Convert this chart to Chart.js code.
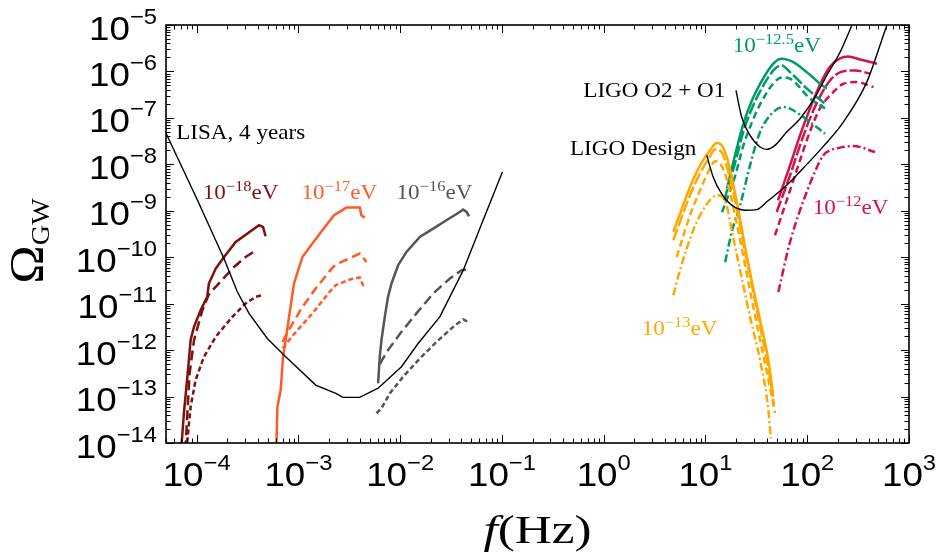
<!DOCTYPE html>
<html>
<head>
<meta charset="utf-8">
<script src="https://cdn.jsdelivr.net/npm/chart.js@4.4.1/dist/chart.umd.min.js"></script>
<style>
  html, body { margin: 0; padding: 0; background: #fff; }
  #wrap { width: 940px; height: 556px; }
</style>
</head>
<body>
<div id="wrap"><canvas id="chart" width="940" height="556"></canvas></div>
<script>
// Tick labels (powers of ten)
const xTickExps = [-4, -3, -2, -1, 0, 1, 2, 3];
const yTickExps = [-5, -6, -7, -8, -9, -10, -11, -12, -13, -14];

// Detector sensitivity curves [f (Hz), Omega_GW]
const lisa = [[4.95e-5, 4.9e-8], [1.02e-4, 1.68e-9], [1.86e-4, 9.3e-11], [2.51e-4, 1.8e-11], [3.27e-4, 6.2e-12],
    [4.95e-4, 1.78e-12], [7.5e-4, 7.2e-13], [1.48e-3, 1.77e-13], [2.33e-3, 1.17e-13], [2.75e-3, 9.6e-14],
    [4.0e-3, 9.6e-14], [6.07e-3, 1.51e-13], [1.03e-2, 4.4e-13], [1.5e-2, 1.39e-12], [2.45e-2, 5.2e-12],
    [4.16e-2, 5.2e-11], [6.53e-2, 6.25e-10], [1.01e-1, 6.8e-9]];
const ligoDesign = [[10.3, 1.56e-8], [11.9, 5.33e-9], [14.4, 2.34e-9], [18.1, 1.32e-9], [24.4, 1.03e-9],
    [31.8, 1.06e-9], [40.6, 1.6e-9], [62.8, 3.53e-9], [95.1, 9.06e-9], [143.9, 2.44e-8], [226.5, 8.13e-8],
    [384.6, 5.89e-7], [605, 9.8e-6], [708, 2.5e-5]];
const ligoO2 = [[19.95, 3.9e-7], [22.7, 1.04e-7], [27.4, 4.21e-8], [34.4, 2.36e-8], [39.9, 2.1e-8],
    [48.2, 2.56e-8], [62.8, 4.95e-8], [84.9, 9.61e-8], [119.4, 2.8e-7], [155.6, 8.2e-7], [210.4, 2.6e-6],
    [274.2, 9.75e-6], [316, 2.0e-5]];

// m = 1e-18 eV
const m18Solid = [[7.0e-5, 6e-15], [7.13e-5, 1e-14], [7.5e-5, 4.4e-14], [7.93e-5, 1.62e-13], [8.28e-5, 4.37e-13],
    [8.73e-5, 1.66e-12], [9.42e-5, 3.16e-12], [1.094e-4, 7.24e-12], [1.27e-4, 1.4e-11], [1.32e-4, 2.72e-11],
    [1.54e-4, 5.71e-11], [1.86e-4, 1.01e-10], [2.42e-4, 2.13e-10], [3.16e-4, 3.24e-10], [4.1e-4, 4.88e-10],
    [4.49e-4, 4.49e-10], [4.76e-4, 2.83e-10]];
const m18Dashed = [[7.76e-5, 7e-15], [8.11e-5, 4.42e-14], [8.53e-5, 3.16e-13], [9.42e-5, 1.64e-12],
    [1.138e-4, 7.24e-12], [1.32e-4, 1.6e-11], [1.72e-4, 3.0e-11], [2.33e-4, 6.18e-11], [3.03e-4, 1.01e-10],
    [3.95e-4, 1.46e-10]];
const m18Dotted = [[7.94e-5, 7e-15], [8.11e-5, 1.15e-14], [8.73e-5, 6.03e-14], [9.77e-5, 2.26e-13],
    [1.18e-4, 7.18e-13], [1.54e-4, 1.93e-12], [2.24e-4, 5.2e-12], [3.03e-4, 1.01e-11], [3.8e-4, 1.4e-11],
    [4.43e-4, 1.52e-11]];

// m = 1e-17 eV
const m17Solid = [[6.05e-4, 6e-15], [6.22e-4, 6.03e-14], [6.7e-4, 1.38e-13], [7.06e-4, 7.18e-13], [7.5e-4, 1.64e-12],
    [8.09e-4, 5.2e-12], [9.06e-4, 2.72e-11], [1.094e-3, 1.01e-10], [1.374e-3, 1.97e-10], [1.72e-3, 3.81e-10],
    [2.24e-3, 8.0e-10], [2.96e-3, 1.17e-9], [4.01e-3, 1.17e-9], [4.16e-3, 8.0e-10], [4.49e-3, 7.1e-10]];
const m17Dashed = [[6.97e-4, 1.51e-12], [8.39e-4, 3.16e-12], [1.094e-3, 8.51e-12], [1.48e-3, 2.12e-11],
    [2.0e-3, 4.83e-11], [2.19e-3, 6.18e-11], [2.65e-3, 7.94e-11], [3.32e-3, 9.84e-11], [4.01e-3, 1.2e-10],
    [4.67e-3, 7.94e-11]];
const m17Dotted = [[7.02e-4, 1.1e-12], [8.09e-4, 1.64e-12], [1.014e-3, 2.93e-12], [1.374e-3, 6.17e-12],
    [1.85e-3, 1.4e-11], [2.03e-3, 1.8e-11], [2.33e-3, 2.51e-11], [2.56e-3, 2.72e-11], [3.19e-3, 3.31e-11],
    [4.01e-3, 3.66e-11], [4.31e-3, 2.51e-11], [4.67e-3, 2.29e-11]];

// m = 1e-16 eV
const m16Solid = [[6.07e-3, 1.92e-13], [6.3e-3, 7.18e-13], [6.55e-3, 1.64e-12], [7.06e-3, 5.2e-12], [7.6e-3, 1.4e-11],
    [8.22e-3, 2.72e-11], [9.55e-3, 6.73e-11], [1.153e-2, 1.3e-10], [1.56e-2, 2.74e-10], [2.11e-2, 4.14e-10],
    [2.85e-2, 6.25e-10], [3.85e-2, 9.42e-10], [4.16e-2, 1.06e-9], [4.49e-2, 9.42e-10], [4.76e-2, 7.62e-10]];
const m16Dashed = [[6.3e-3, 5.01e-13], [7.6e-3, 1.0e-12], [1.03e-2, 2.48e-12], [1.445e-2, 6.17e-12],
    [2.11e-2, 1.66e-11], [3.08e-2, 3.48e-11], [4.01e-2, 5.25e-11], [4.66e-2, 5.43e-11]];
const m16Dotted = [[5.85e-3, 4.37e-14], [6.55e-3, 5.57e-14], [7.91e-3, 1.17e-13], [1.07e-2, 2.67e-13],
    [1.56e-2, 6.61e-13], [2.28e-2, 1.51e-12], [3.32e-2, 3.16e-12], [4.16e-2, 4.57e-12], [4.66e-2, 4.07e-12]];

// m = 1e-13 eV
const m13Solid = [[4.83, 3.5e-10], [5.62, 8.71e-10], [7.05, 3.25e-9], [8.85, 9.51e-9], [11.09, 2.0e-8],
    [12.88, 2.87e-8], [14.42, 2.56e-8], [16.18, 1.44e-8], [18.11, 5.33e-9], [21.04, 1.03e-9], [24.5, 1.67e-10],
    [28.4, 3.2e-11], [34.4, 4.42e-12], [41.5, 6.1e-13], [46.5, 9.9e-14]];
const m13LongDash = [[4.83, 2.32e-10], [7.05, 2.15e-9], [8.85, 6.4e-9], [11.09, 1.49e-8], [12.42, 2.1e-8],
    [14.42, 1.81e-8], [16.63, 7.43e-9], [19.5, 1.68e-9], [24.5, 1.28e-10], [28.6, 2.5e-11], [34.4, 3.28e-12],
    [41.2, 4.53e-13], [47.2, 6.56e-14]];
const m13Dashed = [[5.21, 1.01e-10], [7.05, 8.0e-10], [8.85, 2.76e-9], [11.09, 8.2e-9], [12.42, 1.16e-8],
    [13.9, 1.05e-8], [16.3, 4.53e-9], [19.5, 8.0e-10], [24.5, 6.73e-11], [28.6, 1.19e-11], [34.4, 1.64e-12],
    [41.2, 2.5e-13], [48.3, 4.42e-14]];
const m13DashDot = [[4.83, 1.52e-11], [5.62, 5.25e-11], [7.59, 3.81e-10], [9.89, 1.21e-9], [12.88, 2.15e-9],
    [14.96, 1.95e-9], [16.3, 1.19e-9], [18.11, 3.81e-10], [21.9, 5.25e-11], [27.4, 5.2e-12], [34.4, 6.1e-13],
    [41.5, 5.13e-14], [43.8, 1.26e-14]];

// m = 10^-12.5 eV
const m125Solid = [[16.3, 3.05e-9], [19.5, 1.56e-8], [23.6, 7.5e-8], [28.6, 2.38e-7], [34.4, 5.43e-7],
    [46.5, 1.47e-6], [56.1, 1.87e-6], [72.9, 1.58e-6], [98.8, 9.66e-7], [133.7, 5.43e-7], [155.6, 4.25e-7]];
const m125LongDash = [[15.24, 1.68e-9], [19.5, 1.05e-8], [23.6, 5.13e-8], [28.6, 1.6e-7], [34.4, 3.72e-7],
    [46.5, 1.05e-6], [56.1, 1.35e-6], [67.8, 9.66e-7], [98.8, 4.31e-7], [149.6, 2.02e-7]];
const m125Dashed = [[14.55, 9.29e-10], [19.5, 5.52e-9], [23.6, 2.56e-8], [28.6, 8.0e-8], [34.4, 1.95e-7],
    [46.5, 5.52e-7], [56.1, 7.43e-7], [67.8, 6.97e-7], [106.7, 2.59e-7], [149.6, 1.6e-7]];
const m125DashDot = [[15.6, 7.8e-11], [18.3, 3.81e-10], [21.9, 1.31e-9], [27.4, 9.5e-9], [34.4, 4.95e-8],
    [43.2, 1.13e-7], [58.3, 1.71e-7], [67.8, 1.58e-7], [106.7, 8.13e-8], [149.6, 4.57e-8]];

// m = 1e-12 eV
const m12Solid = [[51.6, 1.68e-9], [67.8, 9.51e-9], [84.9, 4.21e-8], [106.5, 1.6e-7], [133.6, 5.25e-7],
    [167.5, 1.28e-6], [210.1, 1.91e-6], [251.8, 2.1e-6], [330.4, 1.81e-6], [485.6, 1.47e-6]];
const m12LongDash = [[50.1, 9.42e-10], [67.8, 5.79e-9], [84.9, 2.56e-8], [106.5, 9.77e-8], [133.6, 2.9e-7],
    [167.5, 6.4e-7], [210.1, 9.51e-7], [295.1, 1.05e-6], [414.6, 8.93e-7]];
const m12Dashed = [[48.2, 2.97e-10], [67.8, 2.76e-9], [84.9, 1.22e-8], [106.5, 5.13e-8], [133.6, 1.6e-7],
    [180.6, 3.59e-7], [226.5, 5.43e-7], [306.9, 5.89e-7], [446.7, 4.59e-7]];
const m12DashDot = [[52.0, 1.79e-11], [67.8, 2.13e-10], [98.9, 2.54e-9], [143.9, 1.56e-8], [167.5, 2.0e-8],
    [210.1, 2.29e-8], [283.9, 2.48e-8], [464.5, 1.84e-8]];

// Colours
const c18 = '#7d1010';
const c17 = '#ff5a28';
const c16 = '#555555';
const c13 = '#ffa800';
const c125 = '#00996a';
const c12 = '#d2144a';

const MINUS = '\u2212';
const SERIF = '"Liberation Serif", "Times New Roman", serif';
const SANS = '"Liberation Sans", Arial, sans-serif';

function curve(points, color, width, dash, smooth) {
    return {
        data: points.map(p => ({ x: p[0], y: p[1] })),
        borderColor: color,
        borderWidth: width,
        borderDash: dash || [],
        showLine: true,
        pointRadius: 0,
        fill: false,
        cubicInterpolationMode: smooth ? 'monotone' : 'default',
        tension: 0
    };
}

const LONG = [12, 3];
const DASH = [7, 4];
const SHORT = [5, 3];
const DASHDOT = [8, 3, 2, 3];

const datasets = [
    curve(lisa, '#000', 1.4),
    curve(ligoDesign, '#000', 1.4, null, true),
    curve(ligoO2, '#000', 1.4, null, true),
    curve(m18Solid, c18, 2.5),
    curve(m18Dashed, c18, 2.5, [10, 5]),
    curve(m18Dotted, c18, 2.5, SHORT),
    curve(m17Solid, c17, 2.5),
    curve(m17Dashed, c17, 2.5, [9, 5]),
    curve(m17Dotted, c17, 2.5, SHORT),
    curve(m16Solid, c16, 2.5),
    curve(m16Dashed, c16, 2.5, [10, 5]),
    curve(m16Dotted, c16, 2.5, SHORT),
    curve(m13Solid, c13, 2.5, null, true),
    curve(m13LongDash, c13, 2.5, LONG, true),
    curve(m13Dashed, c13, 2.5, DASH, true),
    curve(m13DashDot, c13, 2.5, DASHDOT, true),
    curve(m125Solid, c125, 2.5, null, true),
    curve(m125LongDash, c125, 2.5, LONG, true),
    curve(m125Dashed, c125, 2.5, DASH, true),
    curve(m125DashDot, c125, 2.5, DASHDOT, true),
    curve(m12Solid, c12, 2.5, null, true),
    curve(m12LongDash, c12, 2.5, LONG, true),
    curve(m12Dashed, c12, 2.5, DASH, true),
    curve(m12DashDot, c12, 2.5, DASHDOT, true)
];

// Draw a run of text pieces (for superscripts), optionally stretched sideways
function drawParts(ctx, parts, x, y, align, sx) {
    sx = sx || 1;
    let total = 0;
    parts.forEach(p => { ctx.font = p.font; p.w = ctx.measureText(p.t).width; total += p.w; });
    const start = align === 'right' ? x - total * sx : align === 'center' ? x - total * sx / 2 : x;
    ctx.save();
    ctx.translate(start, y);
    ctx.scale(sx, 1);
    let cx = 0;
    parts.forEach(p => {
        ctx.font = p.font;
        ctx.fillText(p.t, cx, -(p.rise || 0));
        cx += p.w;
    });
    ctx.restore();
}

function tickLabel(exp) {
    return [
        { t: '10', font: '34px ' + SANS },
        { t: exp < 0 ? MINUS + Math.abs(exp) : String(exp), font: '22px ' + SANS, rise: 16 }
    ];
}

function massLabel(exp) {
    return [
        { t: '10', font: '21px ' + SERIF },
        { t: MINUS + exp, font: '15px ' + SERIF, rise: 8 },
        { t: 'eV', font: '21px ' + SERIF }
    ];
}

function plainLabel(text) {
    return [{ t: text, font: '21px ' + SERIF }];
}

// Curve annotations, anchored at (f, Omega) of their left baseline
const annotations = [
    { parts: plainLabel('LISA, 4 years'), f: 6.3e-5, om: 3.57e-8, color: '#000' },
    { parts: massLabel('18'), f: 1.146e-4, om: 1.83e-9, color: c18 },
    { parts: massLabel('17'), f: 1.07e-3, om: 1.83e-9, color: c17 },
    { parts: massLabel('16'), f: 9.2e-3, om: 1.83e-9, color: c16 },
    { parts: plainLabel('LIGO O2 + O1'), f: 0.63, om: 2.8e-7, color: '#000' },
    { parts: plainLabel('LIGO Design'), f: 0.466, om: 1.56e-8, color: '#000' },
    { parts: massLabel('12.5'), f: 18.5, om: 2.6e-6, color: c125 },
    { parts: massLabel('12'), f: 113, om: 8.7e-10, color: c12 },
    { parts: massLabel('13'), f: 2.36, om: 2.1e-12, color: c13 }
];

// Frame, inward ticks, labels and titles
const framePlugin = {
    id: 'frame',
    afterDraw(chart) {
        const { ctx, chartArea: a, scales: { x, y } } = chart;
        ctx.save();
        ctx.strokeStyle = '#000';
        ctx.fillStyle = '#000';

        // ticks
        ctx.lineWidth = 1;
        ctx.beginPath();
        for (let e = -5; e <= 3; e++) {
            for (let m = 1; m <= 9; m++) {
                const v = m * Math.pow(10, e);
                if (v < x.min || v > x.max) continue;
                const px = Math.round(x.getPixelForValue(v)) + 0.5;
                const len = m === 1 ? 8 : 4.5;
                ctx.moveTo(px, a.bottom); ctx.lineTo(px, a.bottom - len);
                ctx.moveTo(px, a.top); ctx.lineTo(px, a.top + len);
            }
        }
        for (let e = -15; e <= -5; e++) {
            for (let m = 1; m <= 9; m++) {
                const v = m * Math.pow(10, e);
                if (v < y.min * 0.999 || v > y.max * 1.001) continue;
                const py = Math.round(y.getPixelForValue(v)) + 0.5;
                const len = m === 1 ? 8 : 4.5;
                ctx.moveTo(a.left, py); ctx.lineTo(a.left + len, py);
                ctx.moveTo(a.right, py); ctx.lineTo(a.right - len, py);
            }
        }
        ctx.stroke();

        // frame
        ctx.lineWidth = 1.6;
        ctx.strokeRect(a.left, a.top, a.right - a.left, a.bottom - a.top);

        // tick labels
        ctx.textAlign = 'left';
        ctx.textBaseline = 'alphabetic';
        xTickExps.forEach(e => {
            drawParts(ctx, tickLabel(e), x.getPixelForValue(Math.pow(10, e)), 486, 'center', 1.08);
        });
        yTickExps.forEach(e => {
            drawParts(ctx, tickLabel(e), 157, y.getPixelForValue(Math.pow(10, e)) + 14.5, 'right', 1.08);
        });

        // annotations
        annotations.forEach(n => {
            ctx.fillStyle = n.color;
            drawParts(ctx, n.parts, x.getPixelForValue(n.f), y.getPixelForValue(n.om), 'left', 1.1);
        });

        // axis titles
        ctx.fillStyle = '#000';
        drawParts(ctx, [
            { t: 'f', font: 'italic 41px ' + SERIF },
            { t: '(Hz)', font: '41px ' + SERIF }
        ], (a.left + a.right) / 2, 543, 'center', 1.25);

        ctx.translate(43, 241);
        ctx.rotate(-Math.PI / 2);
        drawParts(ctx, [
            { t: '\u03A9', font: '48px ' + SERIF },
            { t: 'GW', font: '26px ' + SERIF, rise: -6 }
        ], 0, 0, 'center', 1.08);
        ctx.restore();
    }
};

new Chart(document.getElementById('chart'), {
    type: 'scatter',
    data: { datasets: datasets },
    options: {
        responsive: false,
        animation: false,
        maintainAspectRatio: false,
        layout: { padding: { left: 166, right: 31, top: 25, bottom: 113 } },
        plugins: { legend: { display: false }, tooltip: { enabled: false } },
        scales: {
            x: { type: 'logarithmic', min: 5e-5, max: 1e3, display: false },
            y: { type: 'logarithmic', min: 1e-14, max: 1e-5, display: false }
        }
    },
    plugins: [framePlugin]
});
</script>
</body>
</html>
